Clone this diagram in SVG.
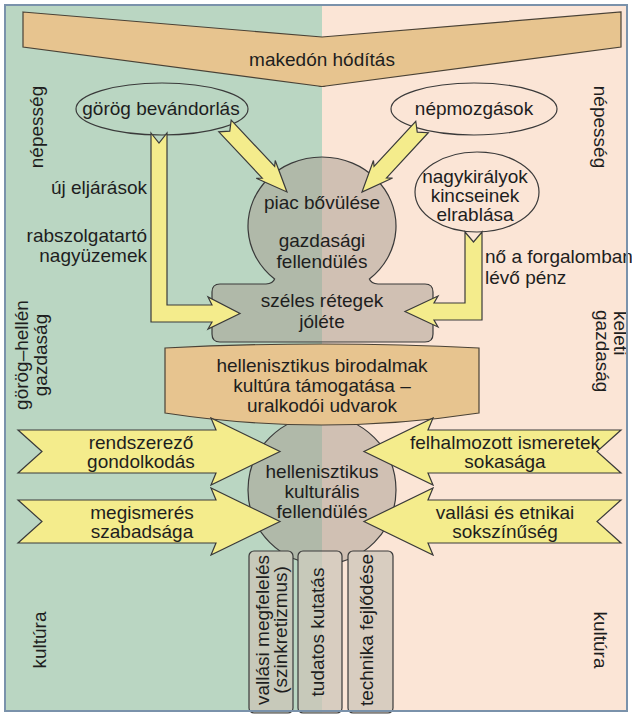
<svg xmlns="http://www.w3.org/2000/svg" width="632" height="716" viewBox="0 0 632 716">
<defs>
<style>
.t{font-family:"Liberation Sans",Arial,sans-serif;font-size:19px;fill:#1e1e1e;text-anchor:middle}
.s{text-anchor:start}
.e{text-anchor:end}
.yel{fill:#f4ec8c;stroke:#3a3a3a;stroke-width:1.2;stroke-linejoin:miter}
.tan{fill:#e7c48f;stroke:#4a4236;stroke-width:1.2}
.gry{fill:#a59b90;fill-opacity:0.5;stroke:#3a3a3a;stroke-width:1.2}
.ell{fill:none;stroke:#3a3a3a;stroke-width:1.2}
.box{fill:url(#boxg);stroke:#3a3a3a;stroke-width:1.2}
</style>
<linearGradient id="boxg" gradientUnits="userSpaceOnUse" x1="0" y1="0" x2="632" y2="0">
<stop offset="0.5095" stop-color="#c7c9ba"/>
<stop offset="0.5095" stop-color="#d8cdc0"/>
</linearGradient>
</defs>
<rect x="5" y="5" width="317" height="706" fill="#bad6c2"/>
<rect x="322" y="5" width="305" height="706" fill="#fbe5d6"/>

<g id="central-economy">
<path class="gry" d="M220,284 L266,284 Q273,283.5 274.6,279 A74 69 0 1 1 369.4,279 Q371,283.5 378,284 L425,284 Q433,284 433,292 L433,334 Q433,342 425,342 L220,342 Q212,342 212,334 L212,292 Q212,284 220,284 Z"/>
<text class="t" x="322" y="209">piac bővülése</text>
<text class="t" x="322" y="247">gazdasági</text>
<text class="t" x="322" y="268">fellendülés</text>
<text class="t" x="322" y="307">széles rétegek</text>
<text class="t" x="322" y="328">jóléte</text>
</g>

<g id="central-culture">
<circle class="gry" cx="322" cy="490" r="74"/>
<text class="t" x="322" y="478">hellenisztikus</text>
<text class="t" x="322" y="498">kulturális</text>
<text class="t" x="322" y="518">fellendülés</text>
</g>

<g id="makedon">
<path class="tan" d="M23,12 L322,37 L621,12 L621,47 L326,86 Q322,87 318,86 L23,47 Z"/>
<text class="t" x="322" y="66">makedón hódítás</text>
</g>

<g id="gorog-bevandorlas">
<ellipse class="ell" cx="162" cy="109" rx="86" ry="26"/>
<text class="t" x="161" y="115">görög bevándorlás</text>
</g>

<g id="nepmozgasok">
<ellipse class="ell" cx="474" cy="109" rx="83" ry="26"/>
<text class="t" x="474" y="115">népmozgások</text>
</g>

<g id="nagykiralyok">
<ellipse class="ell" cx="477" cy="192" rx="62" ry="40"/>
<text class="t" x="475" y="183">nagykirályok</text>
<text class="t" x="475" y="202">kincseinek</text>
<text class="t" x="475" y="221">elrablása</text>
</g>

<g id="connectors">
<polygon class="yel" transform="translate(225,126) rotate(46.8)" points="0,-8.5 63.5,-8.5 59.5,-13 90.5,0 59.5,13 63.5,8.5 0,8.5 7,0"/>
<polygon class="yel" transform="translate(422,127) rotate(132.7)" points="0,-8.5 61.5,-8.5 57.5,-13 88.5,0 57.5,13 61.5,8.5 0,8.5 7,0"/>
<path class="yel" d="M151,133 L159,143 L167,133 L167,305 L212,305 L208,297 L240,313.5 L208,329 L212,322 L151,322 Z"/>
<path class="yel" d="M465,232 L473.5,242 L482,232 L482,320 L434,320 L438,327 L405,311.5 L438,296 L434,303 L465,303 Z"/>
</g>

<g id="connector-labels">
<text class="t e" x="147" y="194">új eljárások</text>
<text class="t e" x="147" y="242">rabszolgatartó</text>
<text class="t e" x="147" y="262">nagyüzemek</text>
<text class="t s" x="485" y="263">nő a forgalomban</text>
<text class="t s" x="485" y="284">lévő pénz</text>
</g>

<g id="hellenisztikus-birodalmak">
<path class="tan" d="M165,348 Q322,340 479,348 L479,413 Q322,437 165,413 Z"/>
<text class="t" x="322" y="372">hellenisztikus birodalmak</text>
<text class="t" x="322" y="392">kultúra támogatása –</text>
<text class="t" x="322" y="412">uralkodói udvarok</text>
</g>

<g id="rendszerezo-gondolkodas">
<polygon class="yel" points="18,430 216,430 211,418 280,451.5 211,485 216,473 18,473 42,451.5"/>
<text class="t" x="141" y="449">rendszerező</text>
<text class="t" x="141" y="468">gondolkodás</text>
</g>

<g id="megismeres-szabadsaga">
<polygon class="yel" points="18,500 216,500 211,488 280,521.5 211,555 216,543 18,543 42,521.5"/>
<text class="t" x="142" y="519">megismerés</text>
<text class="t" x="142" y="538">szabadsága</text>
</g>

<g id="felhalmozott-ismeretek">
<polygon class="yel" points="621,430 428,430 433,418 364,451.5 433,485 428,473 621,473 597,451.5"/>
<text class="t" x="505" y="449">felhalmozott ismeretek</text>
<text class="t" x="505" y="468">sokasága</text>
</g>

<g id="vallasi-etnikai">
<polygon class="yel" points="621,500 428,500 433,488 364,521.5 433,555 428,543 621,543 597,521.5"/>
<text class="t" x="505" y="519">vallási és etnikai</text>
<text class="t" x="505" y="538">sokszínűség</text>
</g>

<g id="vallasi-megfeleles">
<rect class="box" x="249" y="551" width="44" height="162" rx="5"/>
<text class="t" transform="translate(269,630) rotate(-90)">vallási megfelelés</text>
<text class="t" transform="translate(287,630) rotate(-90)">(szinkretizmus)</text>
</g>
<g id="tudatos-kutatas">
<rect class="box" x="298" y="551" width="44" height="162" rx="5"/>
<text class="t" transform="translate(324,632) rotate(-90)">tudatos kutatás</text>
</g>
<g id="technika-fejlodese">
<rect class="box" x="348" y="551" width="45" height="162" rx="5"/>
<text class="t" transform="translate(373,630) rotate(-90)">technika fejlődése</text>
</g>

<g id="side-labels">
<text class="t" transform="translate(43,127) rotate(-90)">népesség</text>
<text class="t" transform="translate(594,127) rotate(90)">népesség</text>
<text class="t" transform="translate(28,355) rotate(-90)">görög–hellén</text>
<text class="t" transform="translate(47,355) rotate(-90)">gazdaság</text>
<text class="t s" transform="translate(614,311) rotate(90)">keleti</text>
<text class="t s" transform="translate(596,310) rotate(90)">gazdaság</text>
<text class="t" transform="translate(46,640) rotate(-90)">kultúra</text>
<text class="t" transform="translate(594,640) rotate(90)">kultúra</text>
</g>

<rect x="5" y="5" width="622" height="706" fill="none" stroke="#7a92ab" stroke-width="2"/>
</svg>
